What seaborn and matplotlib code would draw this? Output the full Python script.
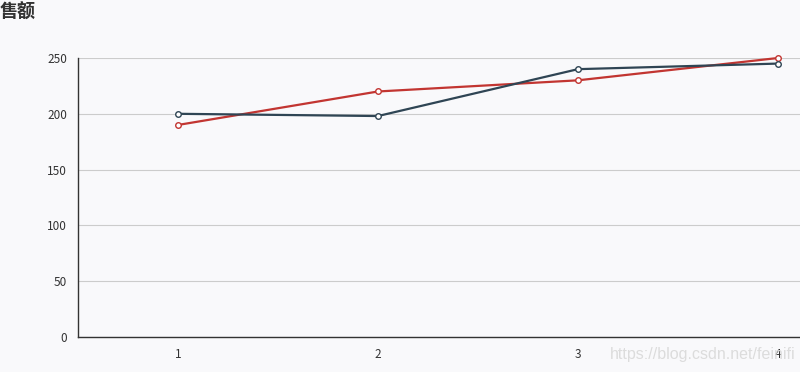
import matplotlib
matplotlib.use("Agg")
import matplotlib.pyplot as plt
import pandas as pd
import seaborn as sns
from matplotlib.ticker import FixedLocator

CATEGORIES = ["1", "2", "3", "4"]
SERIES_RED = [190, 220, 230, 250]
SERIES_NAVY = [200, 198, 240, 245]
Y_TICKS = [0, 50, 100, 150, 200, 250]

BG = "#f9f9fb"
RED = "#c23531"
NAVY = "#2f4554"


def build_frame() -> pd.DataFrame:
    rows = []
    for name, values in (("red", SERIES_RED), ("navy", SERIES_NAVY)):
        for i, v in enumerate(values):
            rows.append({"pos": i, "value": v, "series": name})
    return pd.DataFrame(rows)


def main() -> None:
    sns.set_style("white")
    plt.rcParams["font.family"] = ["Noto Sans CJK SC", "DejaVu Sans"]

    df = build_frame()

    fig = plt.figure(figsize=(8, 3.72), dpi=100, facecolor=BG)
    ax = fig.add_axes([78 / 800, 35 / 372, 722 / 800, 279 / 372])
    ax.set_facecolor(BG)

    for name, color in (("red", RED), ("navy", NAVY)):
        sub = df[df["series"] == name]
        sns.lineplot(
            data=sub, x="pos", y="value", color=color, linewidth=1.6,
            marker="o", markersize=4, markerfacecolor="white",
            markeredgecolor=color, markeredgewidth=1.0, ax=ax, legend=False,
            clip_on=False,
        )

    ax.set_xlim(-0.5, 3.11)
    ax.set_ylim(0, 250)
    ax.set_yticks(Y_TICKS)
    ax.set_yticklabels([str(t) for t in Y_TICKS])
    ax.set_xticks(range(len(CATEGORIES)))
    ax.set_xticklabels(CATEGORIES)
    ax.xaxis.set_minor_locator(FixedLocator([-0.5, 0.5, 1.5, 2.5]))
    ax.tick_params(axis="x", which="major", length=0, pad=8, labelsize=8.5, labelcolor="#333333")
    ax.tick_params(axis="x", which="minor", length=5, width=1, color="#333333", direction="out")
    ax.tick_params(axis="y", length=5, width=1, color="#333333", pad=3, labelsize=8.5, labelcolor="#333333")
    ax.set_xlabel("")
    ax.set_ylabel("")

    ax.yaxis.grid(True, color="#cccccc", linewidth=0.8)
    ax.set_axisbelow(True)
    for side in ("top", "right"):
        ax.spines[side].set_visible(False)
    for side in ("left", "bottom"):
        ax.spines[side].set_color("#333333")
        ax.spines[side].set_linewidth(1)

    fig.text(0.0, 1 - 12 / 372, "售额", fontsize=13, fontweight="bold",
             color="#333333", ha="left", va="center")
    fig.text(610 / 800, 1 - 355 / 372, "https://blog.csdn.net/feinifi",
             fontsize=11.5, color="#dcdcdc", ha="left", va="center",
             family=["Liberation Sans", "DejaVu Sans"])

    fig.savefig("out.png", dpi=100, facecolor=BG)
    plt.close(fig)


if __name__ == "__main__":
    main()
